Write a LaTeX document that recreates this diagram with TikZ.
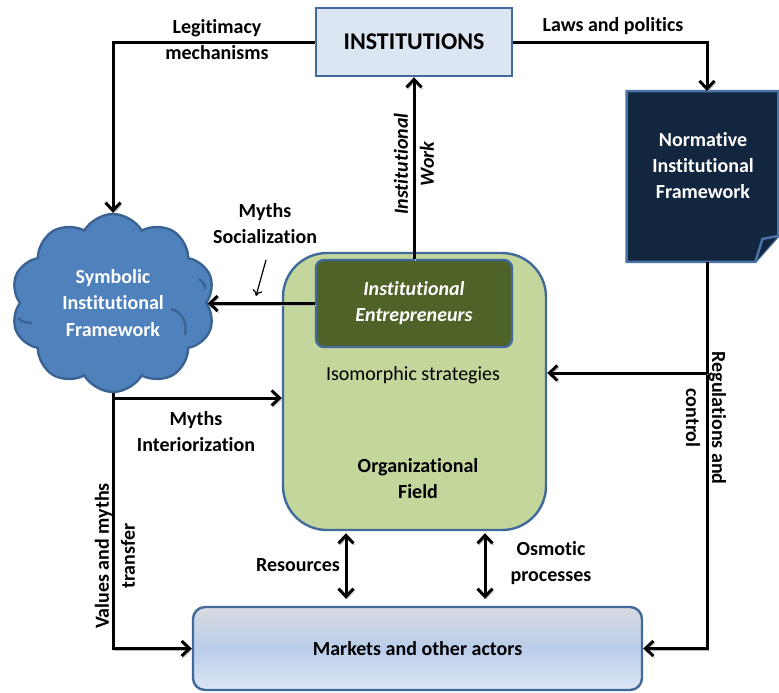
\documentclass[tikz,border=0pt]{standalone}
\usepackage{fontspec}
\setmainfont{Carlito}[Ligatures={NoCommon,NoRare}]
\usetikzlibrary{arrows.meta,shapes.symbols,calc}

\definecolor{instFill}{HTML}{DCE6F2}
\definecolor{boxEdge}{HTML}{41699C}
\definecolor{cloudFill}{HTML}{4F81BD}
\definecolor{cloudEdge}{HTML}{3A6393}
\definecolor{normFill}{HTML}{12263F}
\definecolor{normEdge}{HTML}{4A74A8}
\definecolor{fieldFill}{HTML}{C3D69B}
\definecolor{entFill}{HTML}{4F6228}
\definecolor{mkTop}{HTML}{D8DBE0}
\definecolor{mkMid}{HTML}{BACDEA}
\definecolor{mkBot}{HTML}{DDE6F4}

\tikzset{
  txt/.style={font=\bfseries\fontsize{10}{13}\selectfont, align=center, inner sep=0pt},
  conn/.style={line width=1.5pt, draw=black,
    preaction={draw=black!28, transform canvas={shift={(0.7pt,-0.9pt)}}}},
  arr/.style={conn, -{Straight Barb[length=4pt,width=7.5pt]}},
  darr/.style={conn, {Straight Barb[length=4pt,width=7.5pt]}-{Straight Barb[length=4pt,width=7.5pt]}},
  puffline/.style={draw=cloudEdge, line width=1.2pt},
}

\begin{document}
\begin{tikzpicture}[x=0.5pt,y=-0.5pt]
\useasboundingbox (0,0) rectangle (779,692);

% ---- boxes ----
\node[draw=boxEdge, line width=1.2pt, fill=instFill, minimum width=98pt, minimum height=34pt,
      font=\bfseries\fontsize{12}{14}\selectfont] (inst) at (414,42) {INSTITUTIONS};

\node[draw=boxEdge, line width=1.2pt, fill=fieldFill, rounded corners=22pt,
      minimum width=131.5pt, minimum height=138.5pt] (field) at (414.5,391.5) {};

\node[draw=boxEdge, line width=1.2pt, fill=entFill, rounded corners=4pt,
      minimum width=98pt, minimum height=43.5pt, text=white,
      font=\bfseries\itshape\fontsize{10}{13}\selectfont, align=center] (ent) at (414,303.5)
      {Institutional\\Entrepreneurs};

\node[font=\fontsize{10}{13}\selectfont, inner sep=0pt] (iso) at (413,375) {Isomorphic strategies};
\node[txt] (org) at (418,479) {Organizational\\Field};

\node[draw=boxEdge, line width=1.2pt, rounded corners=6pt,
      top color=mkTop, bottom color=mkBot, middle color=mkMid,
      minimum width=224.5pt, minimum height=41.5pt,
      font=\bfseries\fontsize{10}{13}\selectfont] (mk) at (417.5,648.5) {Markets and other actors};

\node[cloud, cloud puffs=10, cloud puff arc=120, draw=cloudEdge, line width=1.2pt, fill=cloudFill,
      minimum width=102pt, minimum height=89pt, inner sep=0pt, text=white,
      font=\bfseries\fontsize{10}{13.3}\selectfont, align=center] (cloud) at (113,303)
      {Symbolic\\Institutional\\Framework};
% inner puff outlines of the cloud
\draw[puffline] (171,309) .. controls (181,311) and (188,322) .. (185,335);
\draw[puffline] (199,279) .. controls (203,282) and (205,285) .. (205,289);
\draw[puffline] (18,318) .. controls (22,322) and (27,323) .. (32,323);

% normative framework: folded-corner sheet
\node[minimum width=75.5pt, minimum height=85pt, inner sep=0pt] (norm) at (702.5,176.5) {};
\filldraw[fill=normFill, draw=normEdge, line width=1.2pt]
  (norm.north west) -- (norm.north east) -- ($(norm.south east)+(0,-26)$)
  -- ($(norm.south east)+(-23,0)$) -- (norm.south west) -- cycle;
\filldraw[fill=normFill, draw=normEdge, line width=1.2pt]
  ($(norm.south east)+(-23,0)$) -- ($(norm.south east)+(-16,-23)$) -- ($(norm.south east)+(0,-26)$);
\node[txt, text=white] (normtxt) at (703,166) {Normative\\Institutional\\Framework};

% ---- connectors ----
\coordinate (rv) at (707,373);
\coordinate (cb) at (113,398);
\coordinate (d1) at (346,600);
\coordinate (d2) at (485,600);

\draw[arr] (inst.west) -| (cloud.north);
\draw[arr] (inst.east) -| (norm.north -| rv);
\draw[arr] (ent.north) -- (inst.south);
\draw[arr] (ent.west) -- (ent.west -| cloud.east);
\draw[arr] (norm.south -| rv) |- (mk.east);
\draw[arr] (rv) -- (rv -| field.east);
\draw[arr] (cloud.south) |- (mk.west);
\draw[arr] (cb) -- (cb -| field.west);
\draw[darr] ([yshift=-1pt]d1 |- field.south) -- ([yshift=3.5pt]d1 |- mk.north);
\draw[darr] ([yshift=-1pt]d2 |- field.south) -- ([yshift=3.5pt]d2 |- mk.north);

% ---- labels ----
\node[txt] (lleg) at (217,40) {Legitimacy\\mechanisms};
\node[txt] (llaw) at (613,26) {Laws and politics};
\node[txt] (lsoc) at (265,224) {Myths\\Socialization};
\node[txt, rotate=90, font=\bfseries\itshape\fontsize{10}{13}\selectfont] (lwork) at (414,164) {Institutional\\Work};
\node[txt] (lint) at (196,432) {Myths\\Interiorization};
\node[txt, rotate=90] (lval) at (115,556) {Values and myths\\transfer};
\node[txt, rotate=-90] (lreg) at (706,418) {Regulations and\\control};
\node[txt] (lres) at (298,565) {Resources};
\node[txt] (losm) at (551,563) {Osmotic\\processes};

% hand-drawn pointer under the socialization label
\coordinate (pa) at (266,260);
\coordinate (pb) at (256,296);
\draw[line width=0.6pt, -{To[length=3pt,width=5pt]}] (pa) -- (pb);
\end{tikzpicture}
\end{document}
